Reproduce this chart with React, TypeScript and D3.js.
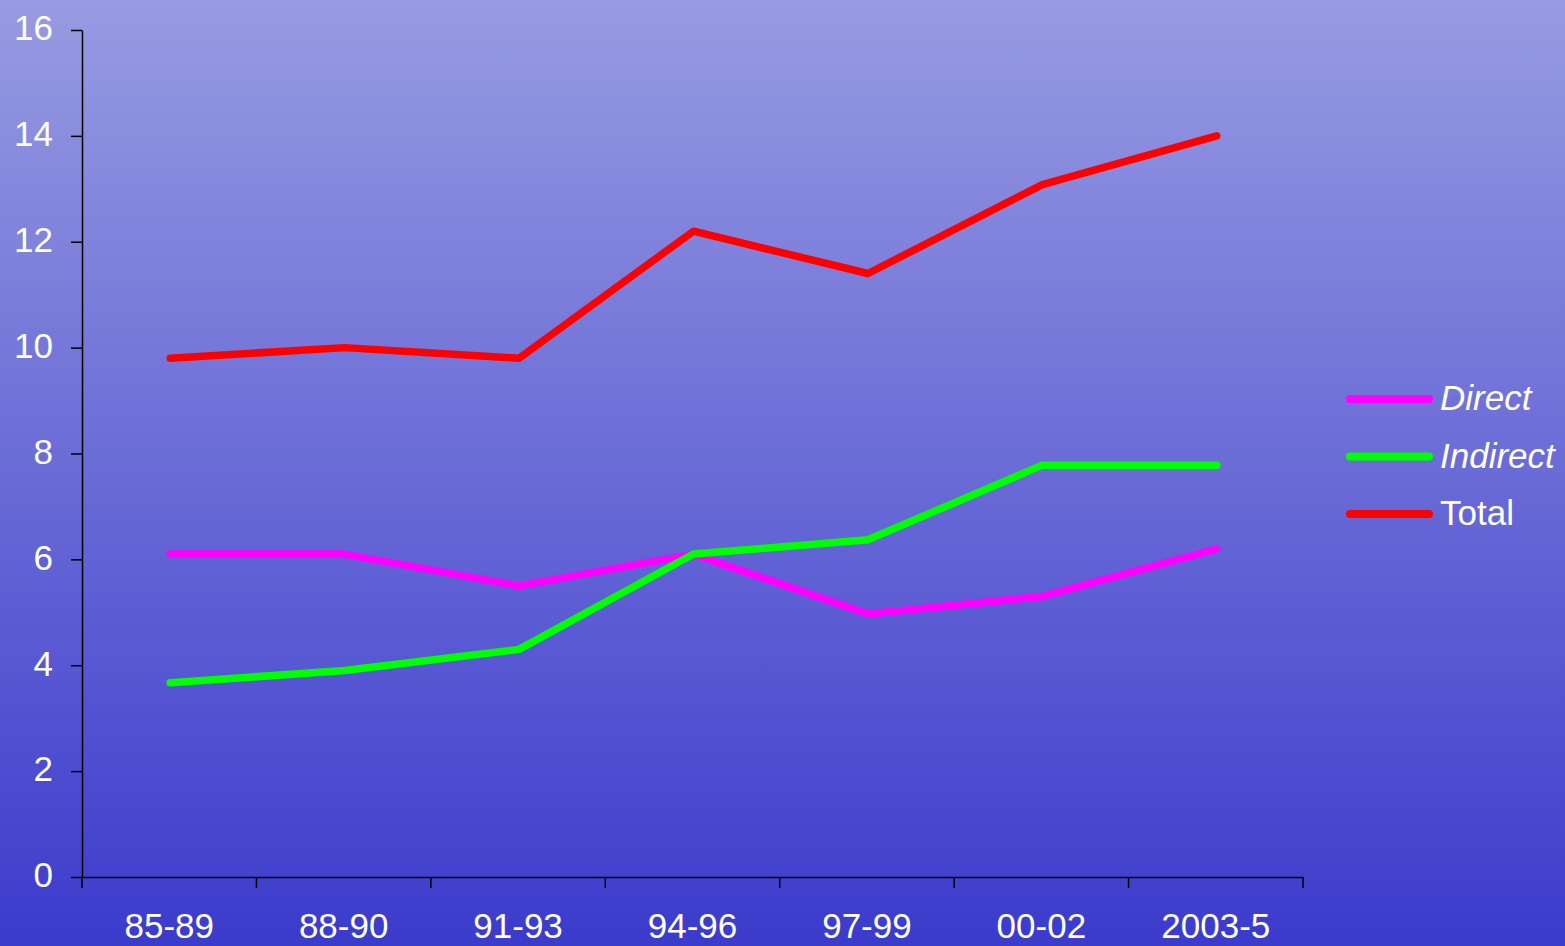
import React, { useEffect, useRef } from "react";
import * as d3 from "d3";

const periods = ["85-89", "88-90", "91-93", "94-96", "97-99", "00-02", "2003-5"];
const direct = [6.1, 6.1, 5.5, 6.1, 4.97, 5.3, 6.2];
const indirect = [3.67, 3.9, 4.3, 6.1, 6.37, 7.78, 7.78];
const total = [9.8, 10.0, 9.8, 12.2, 11.4, 13.08, 14.0];
const yTicks = [0, 2, 4, 6, 8, 10, 12, 14, 16];

const seriesList = [
  { name: "Direct", values: direct, color: "#ff00ff", italic: true },
  { name: "Indirect", values: indirect, color: "#00ff00", italic: true },
  { name: "Total", values: total, color: "#ff0000", italic: false },
];

export default function App() {
  const ref = useRef<SVGSVGElement | null>(null);

  useEffect(() => {
    document.body.style.margin = "0";
    const width = 1565;
    const height = 946;
    const svg = d3.select(ref.current as any);
    svg.selectAll("*").remove();
    svg.attr("width", width).attr("height", height);

    const defs = svg.append("defs");
    const grad = defs.append("linearGradient").attr("id", "bg").attr("x1", 0).attr("y1", 0).attr("x2", 0).attr("y2", 1);
    grad.append("stop").attr("offset", "0%").attr("stop-color", "#989be1");
    grad.append("stop").attr("offset", "100%").attr("stop-color", "#3b3bcc");
    svg.append("rect").attr("width", width).attr("height", height).attr("fill", "url(#bg)");

    const left = 82, right = 1303, top = 30, bottom = 877;
    const x = d3.scaleBand().domain(periods).range([left, right]);
    const y = d3.scaleLinear().domain([0, 16]).range([bottom, top]);

    const font = "'Liberation Sans', Arial, sans-serif";
    const fs = "35px";

    // y axis
    const ya = svg.append("g").attr("transform", `translate(${left},0)`)
      .call(d3.axisLeft(y).tickValues(yTicks).tickSize(11).tickPadding(29).tickSizeOuter(0));
    ya.select(".domain").attr("stroke", "#000").attr("stroke-width", 1.5);
    ya.selectAll(".tick line").attr("stroke", "#000").attr("stroke-width", 1.5);
    ya.selectAll("text").attr("fill", "#fff").attr("dy", "0.28em").attr("x", -29)
      .style("font-family", font).style("font-size", fs);

    // x axis
    const xa = svg.append("g").attr("transform", `translate(0,${bottom})`)
      .call(d3.axisBottom(x).tickSize(0).tickPadding(36));
    xa.select(".domain").attr("stroke", "#000").attr("stroke-width", 1.5);
    xa.selectAll("text").attr("fill", "#fff").style("font-family", font).style("font-size", fs);
    const bounds = periods.map((p) => x(p) as number).concat([right]);
    xa.selectAll(".sep").data(bounds).enter().append("line")
      .attr("x1", (d) => d).attr("x2", (d) => d).attr("y1", 0).attr("y2", 11)
      .attr("stroke", "#000").attr("stroke-width", 1.5);

    const line = d3.line<number>()
      .x((_, i) => (x(periods[i]) as number) + x.bandwidth() / 2 + 1)
      .y((d) => y(d));

    seriesList.forEach((s) => {
      svg.append("path").attr("d", line(s.values) as string)
        .attr("fill", "none").attr("stroke", s.color).attr("stroke-width", 7.5)
        .attr("stroke-linecap", "round").attr("stroke-linejoin", "round");
    });

    const legend = svg.append("g");
    seriesList.forEach((s, i) => {
      const ly = 399 + i * 57.5;
      legend.append("line").attr("x1", 1350).attr("x2", 1429).attr("y1", ly).attr("y2", ly)
        .attr("stroke", s.color).attr("stroke-width", 8).attr("stroke-linecap", "round");
      legend.append("text").attr("x", 1440).attr("y", ly + 11)
        .attr("fill", "#fff").style("font-family", font).style("font-size", fs)
        .style("font-style", s.italic ? "italic" : "normal").text(s.name);
    });
  }, []);

  return <svg ref={ref} style={{ display: "block" }} />;
}
